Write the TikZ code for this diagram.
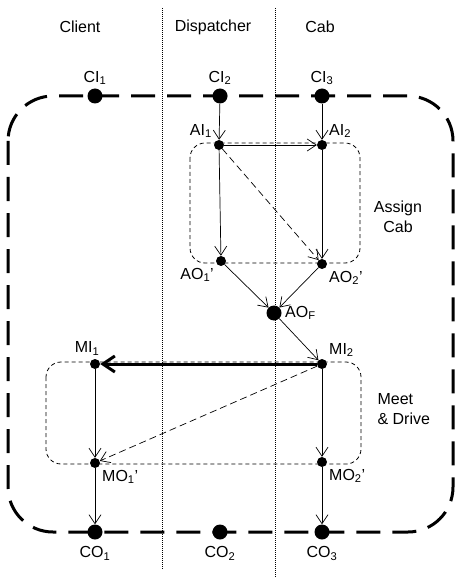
\documentclass[tikz,border=0pt]{standalone}
\usepackage{fontspec}
\setmainfont{Liberation Sans}
\usetikzlibrary{arrows.meta}
\tikzset{
  bigdot/.style={circle,fill,inner sep=0pt,minimum size=15pt},
  smalldot/.style={circle,fill,inner sep=0pt,minimum size=10pt},
  lane/.style={dash pattern=on 1pt off 1pt,line width=0.6pt},
  region/.style={dash pattern=on 4pt off 3pt,line width=0.8pt,rounded corners=15pt},
  border/.style={dash pattern=on 24pt off 12pt,line width=3pt,rounded corners=45pt},
}
\begin{document}
\begin{tikzpicture}[x=1pt,y=-1pt,font=\fontsize{16}{20}\selectfont,
    >={Straight Barb[length=9pt,width=12pt]}]
  \useasboundingbox (0,0) rectangle (456,577);
  % swim lanes
  \draw[lane] (162,8) -- (162,570);
  \draw[lane] (275,8) -- (275,577);
  \node (client) at (80,27) {Client};
  \node (dispatcher) at (213,27) {Dispatcher};
  \node (cab) at (320,27) {Cab};
  % borders
  \draw[border] (8,96) rectangle (453,532);
  \draw[region] (190,143) rectangle (360,263);
  \draw[region] (46,362) rectangle (361,464);
  \node[align=center] (assign) at (398,217) {Assign\\Cab};
  \node[align=left,anchor=west] (meet) at (374,409) {Meet\\\& Drive};
  % points
  \draw
    (95,96) node[bigdot,label=above:CI\textsubscript{1}] (CI1){}
    (220,96) node[bigdot,label=above:CI\textsubscript{2}] (CI2){}
    (322,96) node[bigdot,label=above:CI\textsubscript{3}] (CI3){}
    (219,145) node[smalldot,label=above left:AI\textsubscript{1}] (AI1){}
    (322,145) node[smalldot,label=above right:AI\textsubscript{2}] (AI2){}
    (221,261) node[smalldot,label=below left:AO\textsubscript{1}’] (AO1){}
    (322,264) node[smalldot,label=below right:AO\textsubscript{2}’] (AO2){}
    (274,313) node[bigdot,label=right:AO\textsubscript{F}] (AOF){}
    (95,364) node[smalldot,label={[xshift=-8pt]above:MI\textsubscript{1}}] (MI1){}
    (322,364) node[smalldot,label=above right:MI\textsubscript{2}] (MI2){}
    (95,463) node[smalldot,label=below right:MO\textsubscript{1}’] (MO1){}
    (322,462) node[smalldot,label=below right:MO\textsubscript{2}’] (MO2){}
    (95,532) node[bigdot,label={[yshift=-3pt]below:CO\textsubscript{1}}] (CO1){}
    (220,532) node[bigdot,label={[yshift=-3pt]below:CO\textsubscript{2}}] (CO2){}
    (322,532) node[bigdot,label={[yshift=-3pt]below:CO\textsubscript{3}}] (CO3){};
  \begin{scope}[->,line width=0.7pt]
    \draw (CI2) to (AI1);
    \draw (CI3) to (AI2);
    \draw (AI1) to (AI2);
    \draw (AI1) to (AO1);
    \draw[dash pattern=on 7pt off 4pt] (AI1) to (AO2);
    \draw (AI2) to (AO2);
    \draw (AO1) to (AOF);
    \draw (AO2) to (AOF);
    \draw (AOF) to (MI2);
    \draw[line width=3pt,-{Straight Barb[length=12pt,width=16pt]}] (MI2) to (MI1);
    \draw (MI1) to (MO1);
    \draw[dash pattern=on 7pt off 4pt] (MI2) to (MO1);
    \draw (MI2) to (MO2);
    \draw (MO1) to (CO1);
    \draw (MO2) to (CO3);
  \end{scope}
\end{tikzpicture}
\end{document}
